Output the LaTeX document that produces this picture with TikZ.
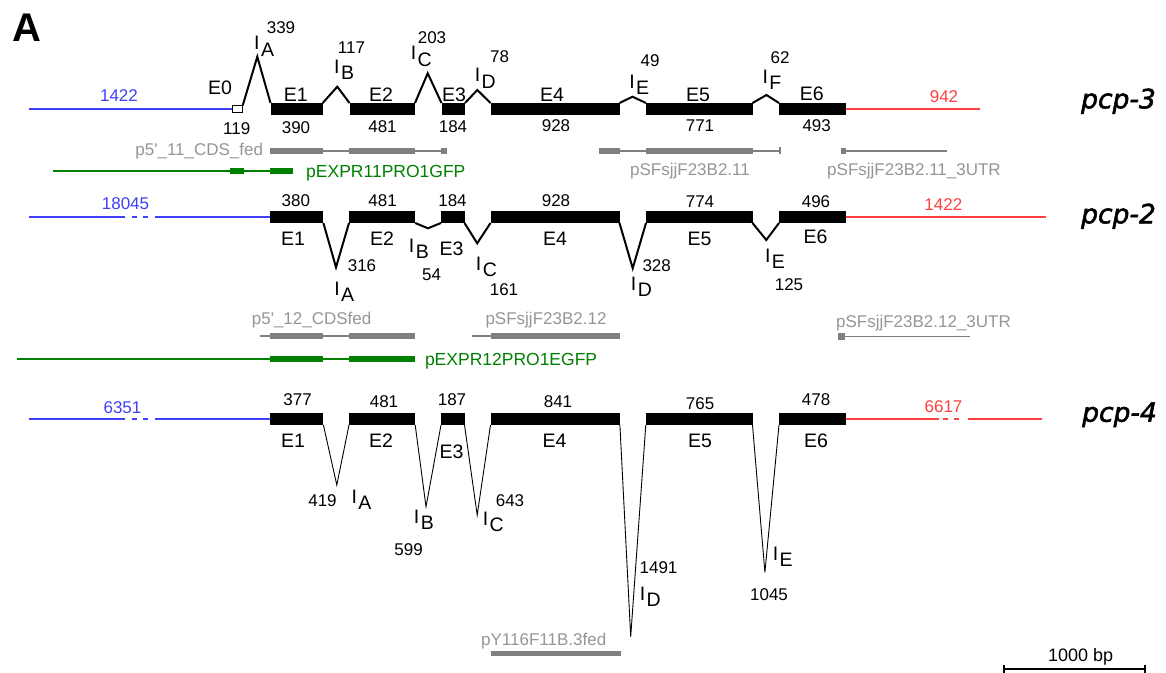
\documentclass[tikz,border=0pt]{standalone}
\usepackage{fontspec}
\newfontfamily\labfont{Liberation Sans}
\newfontfamily\genefont{DejaVu Sans Oblique}[FakeBold=2]
\definecolor{utrblue}{RGB}{64,64,250}
\definecolor{utrred}{RGB}{255,64,64}
\definecolor{clonegreen}{RGB}{0,128,0}
\definecolor{probegray}{RGB}{128,128,128}
\definecolor{probetext}{RGB}{150,150,150}

% exon box from x1 to x2 centred on row y: [style]{name}{x1}{x2}{y}
\newcommand\exonat[5][exon]{\node[#1, minimum width={(#4-#3)*1bp}, anchor=west] (#2) at (#3,#5) {};}
% intron label "I" with a lowered letter: {name}{x of the I stem}{baseline}{letter}
\newcommand\intronlabel[4]{\node[ilab] (#1) at ({#2-2.7},#3) {I\kern1.5bp\raisebox{-6.7bp}{#4}};}

\tikzset{
  exon/.style={fill=black, draw=none, inner sep=0bp, outer sep=0bp, minimum height=12bp},
  exonopen/.style={fill=white, draw=black, line width=1.2bp, inner sep=0bp, outer sep=0bp, minimum height=7bp},
  utr/.style={line width=1.7bp},
  intron/.style={line width=2bp},
  intronlong/.style={line width=0.9bp},
  num/.style={font=\labfont\fontsize{17bp}{17bp}\selectfont, inner sep=0bp, anchor=base},
  elab/.style={font=\labfont\fontsize{19.5bp}{20bp}\selectfont, inner sep=0bp, anchor=base},
  ilab/.style={font=\labfont\fontsize{19.5bp}{20bp}\selectfont, inner sep=0bp, anchor=base west},
  plab/.style={font=\labfont\fontsize{17bp}{17bp}\selectfont, inner sep=0bp, anchor=base, text=probetext},
  glab/.style={font=\labfont\fontsize{17.5bp}{18bp}\selectfont, inner sep=0bp, anchor=base west, text=clonegreen},
  probethin/.style={probegray, line width=1.4bp},
  probethick/.style={probegray, line width=6.5bp},
  clonethin/.style={clonegreen, line width=1.7bp},
  clonethick/.style={clonegreen, line width=6.5bp},
  gene/.style={font=\genefont\fontsize{26.5bp}{27bp}\selectfont, inner sep=0bp, anchor=base west},
}

\begin{document}
\begin{tikzpicture}[x=1bp,y=-1bp]
\fill[white] (0,0) rectangle (1166,673);
\useasboundingbox (0,0) rectangle (1166,673);

\node[font=\labfont\bfseries\fontsize{40bp}{40bp}\selectfont, inner sep=0bp, anchor=base west] (panel) at (12.5,42) {A};

% ---------------- pcp-3 ----------------
\exonat[exonopen]{p3e0}{232.3}{242.7}{109}
\exonat{p3e1}{270.5}{322.7}{109}
\exonat{p3e2}{349.5}{415}{109}
\exonat{p3e3}{441.5}{465}{109}
\exonat{p3e4}{490.5}{619.5}{109}
\exonat{p3e5}{646}{752.5}{109}
\exonat{p3e6}{779}{846}{109}
\coordinate (p3five) at (29,109);
\coordinate (p3three) at (980,109);
\draw[utr, utrblue] (p3five) -- (p3e0.west);
\draw[utr, utrred] (p3e6.east) -- (p3three);
\coordinate (p3pA) at (257.3,56.7);
\coordinate (p3pB) at (337.3,86.7);
\coordinate (p3pC) at (427.7,73.3);
\coordinate (p3pD) at (477.3,90);
\coordinate (p3pE) at (632.5,96.7);
\coordinate (p3pF) at (766.5,95);
\draw[intron] (p3e0.north east) -- (p3pA) -- (p3e1.north west);
\draw[intron] (p3e1.north east) -- (p3pB) -- (p3e2.north west);
\draw[intron] (p3e2.north east) -- (p3pC) -- (p3e3.north west);
\draw[intron] (p3e3.north east) -- (p3pD) -- (p3e4.north west);
\draw[intron] (p3e4.north east) -- (p3pE) -- (p3e5.north west);
\draw[intron] (p3e5.north east) -- (p3pF) -- (p3e6.north west);

\node[num, utrblue] (p3n5u) at (119,101.7) {1422};
\node[elab] (p3l0) at (220,95) {E0};
\node[num] (p3n0) at (236.7,135) {119};
\node[num] (p3nA) at (281,33.3) {339};
\intronlabel{p3iA}{256.7}{50}{A}
\node[elab] (p3l1) at (295.8,101.7) {E1};
\node[num] (p3n1) at (296,133.3) {390};
\node[num] (p3nB) at (351.5,53.3) {117};
\intronlabel{p3iB}{336.7}{73.3}{B}
\node[elab] (p3l2) at (381,101.7) {E2};
\node[num] (p3n2) at (382.5,133) {481};
\node[num] (p3nC) at (432,43.3) {203};
\intronlabel{p3iC}{413.3}{60}{C}
\node[elab] (p3l3) at (454,101.7) {E3};
\node[num] (p3n3) at (453,133) {184};
\node[num] (p3nD) at (499.5,63) {78};
\intronlabel{p3iD}{477.3}{81.7}{D}
\node[elab] (p3l4) at (552,101.7) {E4};
\node[num] (p3n4) at (556,132) {928};
\node[num] (p3nE) at (650,66.7) {49};
\intronlabel{p3iE}{631.8}{88.3}{E}
\node[elab] (p3l5) at (698,101.7) {E5};
\node[num] (p3n5) at (700,132) {771};
\node[num] (p3nF) at (780,63.3) {62};
\intronlabel{p3iF}{765}{83.3}{F}
\node[elab] (p3l6) at (811.7,100.5) {E6};
\node[num] (p3n6) at (816.7,131.7) {493};
\node[num, utrred] (p3n3u) at (944,103) {942};
\node[gene] (p3name) at (1081,108.3) {pcp-3};

% probes and clones under pcp-3
\draw[probethin] (270,151) -- (446.7,151);
\draw[probethick] (270,151) -- (322.7,151) (349.3,151) -- (415,151) (441,151) -- (446.7,151);
\node[plab, anchor=base east] (pr1) at (263.3,155.5) {p5'\_11\_CDS\_fed};
\draw[probethin] (599,151) -- (780,151) (780,147.5) -- (780,154.5);
\draw[probethick] (599,151) -- (619.5,151) (646,151) -- (752.7,151);
\node[plab] (pr2) at (690,175.5) {pSFsjjF23B2.11};
\draw[probethin] (840.7,151) -- (947.3,151);
\draw[probethick] (840.7,151) -- (846,151);
\node[plab] (pr3) at (914,175.5) {pSFsjjF23B2.11\_3UTR};
\draw[clonethin] (53.3,171) -- (293.3,171);
\draw[clonethick] (230,171) -- (244.3,171) (270,171) -- (293.3,171);
\node[glab] (cl1) at (306,177.5) {pEXPR11PRO1GFP};

% ---------------- pcp-2 ----------------
\exonat{p2e1}{270}{323.4}{217}
\exonat{p2e2}{349}{415.2}{217}
\exonat{p2e3}{441}{464.5}{217}
\exonat{p2e4}{490.5}{619.5}{217}
\exonat{p2e5}{646}{752.5}{217}
\exonat{p2e6}{779}{846}{217}
\coordinate (p2five) at (29,217);
\coordinate (p2three) at (1046,217);
\draw[utr, utrblue] (p2five) -- (125,217) (131.7,217) -- (136.7,217)
  (142.7,217) -- (147.7,217) (155,217) -- (p2e1.west);
\draw[utr, utrred] (p2e6.east) -- (p2three);
\coordinate (p2vA) at (336,267.3);
\coordinate (p2vB) at (427.9,228.3);
\coordinate (p2vC) at (477.2,243.3);
\coordinate (p2vD) at (632.7,268.3);
\coordinate (p2vE) at (766.3,240);
\draw[intron] (p2e1.south east) -- (p2vA) -- (p2e2.south west);
\draw[intron] (p2e2.south east) -- (p2vB) -- (p2e3.south west);
\draw[intron] (p2e3.south east) -- (p2vC) -- (p2e4.south west);
\draw[intron] (p2e4.south east) -- (p2vD) -- (p2e5.south west);
\draw[intron] (p2e5.south east) -- (p2vE) -- (p2e6.south west);

\node[num, utrblue] (p2n5u) at (125.5,210) {18045};
\node[num] (p2n1) at (295.8,207) {380};
\node[num] (p2n2) at (382.6,207) {481};
\node[num] (p2n3) at (452.5,207) {184};
\node[num] (p2n4) at (556,207) {928};
\node[num] (p2n5) at (700,207.5) {774};
\node[num] (p2n6) at (816,208) {496};
\node[num, utrred] (p2n3u) at (943.3,210.7) {1422};
\node[elab] (p2l1) at (293,245) {E1};
\node[elab] (p2l2) at (382,245) {E2};
\node[elab] (p2l3) at (451.5,255) {E3};
\node[elab] (p2l4) at (555,245) {E4};
\node[elab] (p2l5) at (699.5,245) {E5};
\node[elab] (p2l6) at (815.5,243.5) {E6};
\node[num] (p2nA) at (362,271.7) {316};
\intronlabel{p2iA}{336.8}{295}{A}
\intronlabel{p2iB}{411.4}{252}{B}
\node[num] (p2nB) at (431.5,280) {54};
\intronlabel{p2iC}{478.4}{270}{C}
\node[num] (p2nC) at (504,295) {161};
\node[num] (p2nD) at (656.7,271.7) {328};
\intronlabel{p2iD}{633.4}{290}{D}
\intronlabel{p2iE}{767.5}{262}{E}
\node[num] (p2nE) at (789,290) {125};
\node[gene] (p2name) at (1081,223.3) {pcp-2};

% probes and clones under pcp-2
\draw[probethin] (259.5,336) -- (415.2,336);
\draw[probethick] (270,336) -- (323.4,336) (349,336) -- (415.2,336);
\node[plab] (pr4) at (311.6,324) {p5'\_12\_CDSfed};
\draw[probethin] (471.5,336) -- (619.5,336);
\draw[probethick] (490.5,336) -- (619.5,336);
\node[plab] (pr5) at (546,324) {pSFsjjF23B2.12};
\draw[probethin] (837.5,336.5) -- (970,336.5);
\draw[probethick] (837.5,336.5) -- (845.3,336.5);
\node[plab] (pr6) at (923.5,327.5) {pSFsjjF23B2.12\_3UTR};
\draw[clonethin] (17.2,359) -- (415.2,359);
\draw[clonethick] (270,359) -- (323.4,359) (349,359) -- (415.2,359);
\node[glab] (cl2) at (424.8,365.5) {pEXPR12PRO1EGFP};

% ---------------- pcp-4 ----------------
\exonat{p4e1}{270}{323.4}{419}
\exonat{p4e2}{349}{415.2}{419}
\exonat{p4e3}{441}{464.5}{419}
\exonat{p4e4}{490.5}{619.9}{419}
\exonat{p4e5}{645.8}{752.5}{419}
\exonat{p4e6}{779}{846}{419}
\coordinate (p4five) at (29,419);
\coordinate (p4three) at (1042,419);
\draw[utr, utrblue] (p4five) -- (125,419) (131.7,419) -- (136.7,419)
  (142.7,419) -- (147.7,419) (155,419) -- (p4e1.west);
\draw[utr, utrred] (p4e6.east) -- (939.3,419) (943.3,419) -- (948.3,419)
  (954.3,419) -- (959.3,419) (968.3,419) -- (p4three);
\coordinate (p4vA) at (336.8,485);
\coordinate (p4vB) at (426,506.7);
\coordinate (p4vC) at (477.2,515);
\coordinate (p4vD) at (630.7,636.7);
\coordinate (p4vE) at (764.9,572.3);
\draw[intronlong] (p4e1.south east) -- (p4vA) -- (p4e2.south west);
\draw[intronlong] (p4e2.south east) -- (p4vB) -- (p4e3.south west);
\draw[intronlong] (p4e3.south east) -- (p4vC) -- (p4e4.south west);
\draw[intronlong] (p4e4.south east) -- (p4vD) -- (p4e5.south west);
\draw[intronlong] (p4e5.south east) -- (p4vE) -- (p4e6.south west);

\node[num, utrblue] (p4n5u) at (122.5,413) {6351};
\node[num] (p4n1) at (297.6,405) {377};
\node[num] (p4n2) at (384,407) {481};
\node[num] (p4n3) at (452,405) {187};
\node[num] (p4n4) at (558,407) {841};
\node[num] (p4n5) at (700.1,409) {765};
\node[num] (p4n6) at (816.1,405) {478};
\node[num, utrred] (p4n3u) at (943.5,412.7) {6617};
\node[elab] (p4l1) at (293,447) {E1};
\node[elab] (p4l2) at (381,447) {E2};
\node[elab] (p4l3) at (451.5,458) {E3};
\node[elab] (p4l4) at (554.6,447) {E4};
\node[elab] (p4l5) at (700,447) {E5};
\node[elab] (p4l6) at (816,447) {E6};
\node[num] (p4nA) at (322.5,506.7) {419};
\intronlabel{p4iA}{354}{503}{A}
\intronlabel{p4iB}{416.4}{523}{B}
\node[num] (p4nB) at (408.6,555) {599};
\intronlabel{p4iC}{485.3}{525}{C}
\node[num] (p4nC) at (510,506.7) {643};
\node[num] (p4nD) at (658.5,573.3) {1491};
\intronlabel{p4iD}{642.3}{600}{D}
\intronlabel{p4iE}{775.3}{560}{E}
\node[num] (p4nE) at (769,600) {1045};
\node[gene] (p4name) at (1082,421.7) {pcp-4};

% probe under pcp-4
\draw[probegray, line width=5bp] (490.5,653.3) -- (621,653.3);
\node[plab] (pr7) at (543.7,645.5) {pY116F11B.3fed};

% scale bar
\coordinate (sbl) at (1004.3,669.3);
\coordinate (sbr) at (1145,669.3);
\draw[line width=2bp] (sbl) -- (sbr);
\draw[line width=2bp] (1004.3,665) -- (1004.3,673) (1145,665) -- (1145,673);
\node[font=\labfont\fontsize{18bp}{18bp}\selectfont, inner sep=0bp, anchor=base] (sblab) at (1080.7,661.7) {1000 bp};
\end{tikzpicture}
\end{document}
